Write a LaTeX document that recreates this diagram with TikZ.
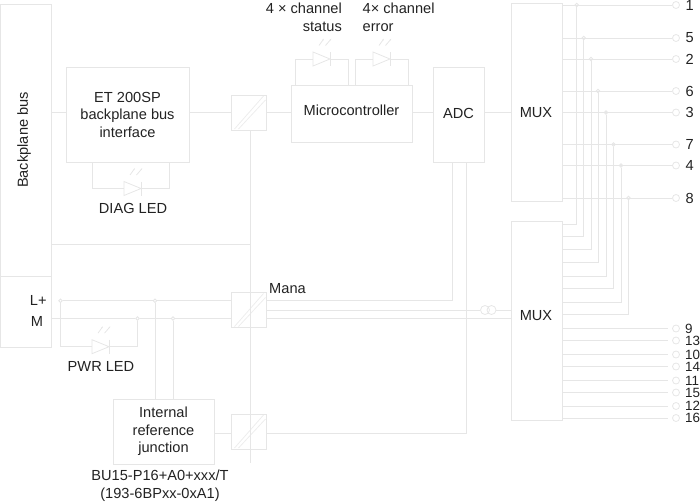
\documentclass[tikz,border=0pt]{standalone}
\usepackage{fontspec}
\setmainfont{Liberation Sans}
\usepackage{xcolor}
\usepackage{tikz}
\usetikzlibrary{arrows.meta,positioning,calc}
\definecolor{Wire}{HTML}{E6E6E6}
\definecolor{Ink}{HTML}{222222}

\tikzset{
    led/.pic={
        \draw[wire] (-8.5,-7) -- (8.5,0) -- (-8.5,7) -- cycle;
        \draw[wire] (8.5,-7) -- (8.5,7);
        \draw[wire,-{Latex[length=2pt]}] (-2.5,-13.5) -- (2.5,-20.5);
        \draw[wire,-{Latex[length=2pt]}] (4,-13.5) -- (10,-20.5);
        \coordinate (-a) at (-8.5,0);
        \coordinate (-k) at (8.5,0);
    }
}

\begin{document}
\begin{tikzpicture}[
    x=1pt,y=-1pt,
    wire/.style={draw=Wire,line width=0.8pt},
    txt/.style={text=Ink,inner sep=0pt,align=center,font=\fontsize{14.6}{17.5}\selectfont},
    lowtxt/.style={txt,font=\fontsize{13.4}{14}\selectfont},
    block/.style={wire,txt,rectangle},
    iso/.style={wire,rectangle,minimum size=35pt,inner sep=0pt,
        path picture={
            \draw[wire,draw=Wire!70] ($(path picture bounding box.south west)+(3,-1)$) -- ($(path picture bounding box.north east)+(-3,1)$);
            \draw[wire,draw=Wire!70] ($(path picture bounding box.south west)+(7,-1)$) -- ($(path picture bounding box.north east)+(-1,5)$);
        }},
    dot/.style={wire,circle,minimum size=3.5pt,inner sep=0pt},
    pin/.style={wire,circle,minimum size=7pt,inner sep=0pt},
    lead/.style={wire,shorten >=4pt}
]
\useasboundingbox (0,0) rectangle (700,501);

% blocks
\node[block,minimum width=51pt,minimum height=272pt] (bus) at (26.2,140) {};
\node[block,minimum width=51.5pt,minimum height=71pt] (supply) at (26,311.5) {};
\node[block,minimum width=123pt,minimum height=94.5pt] (et) at (127.5,114.75) {ET 200SP\\backplane bus\\interface};
\node[iso] (iso1) at (249,112.5) {};
\node[iso] (iso2) at (249,310) {};
\node[iso] (iso3) at (249,431.5) {};
\node[block,minimum width=120.5pt,minimum height=57pt] (micro) at (351.75,113.5) {};
\node[block,minimum width=51pt,minimum height=95pt] (adc) at (458.8,115) {};
\node[block,minimum width=51pt,minimum height=198pt] (mux1) at (537.2,102) {};
\node[block,minimum width=51pt,minimum height=199pt] (mux2) at (537.2,320.5) {};
\node[block,minimum width=101pt,minimum height=65pt] (ref) at (163.5,431.5) {Internal\\reference\\junction};

% texts
\node[txt,rotate=90] (buslabel) at (24,140) {Backplane bus};
\node[txt] (microlabel) at (351.5,110) {Microcontroller};
\node[txt] (adclabel) at (458.5,113) {ADC};
\node[txt] (mux1label) at (536,113) {MUX};
\node[txt] (mux2label) at (536,315.5) {MUX};
\node[txt,align=right,anchor=north east] (statuslabel) at (342,3) {4 × channel\\status};
\node[txt,align=left,anchor=north west] (errorlabel) at (362.5,3) {4× channel\\error};
\node[txt] (diaglabel) at (133,208) {DIAG LED};
\node[txt] (pwrlabel) at (101,366) {PWR LED};
\node[txt] (manalabel) at (287.5,289) {Mana};
\node[txt] (lplus) at (38.3,300) {L+};
\node[txt] (mlabel) at (37,321) {M};
\node[txt] (partlabel) at (160,485.5) {BU15-P16+A0+xxx/T\\(193-6BPxx-0xA1)};

% LEDs
\pic (diag) at (132.5,188.5) {led};
\pic (status) at (321.5,59) {led};
\pic (error) at (381.5,59) {led};
\pic (pwr) at (100.5,346.7) {led};
\coordinate (diagl) at (92.5,188.5);
\coordinate (diagr) at (169.5,188.5);
\coordinate (statusl) at (295.5,59);
\coordinate (statusr) at (348.5,59);
\coordinate (errorl) at (355.7,59);
\coordinate (errorr) at (408.3,59);
\draw[wire] (et.south -| diagl) -- (diagl) -- (diag-a);
\draw[wire] (diag-k) -- (diagr) -- (et.south -| diagr);
\draw[wire] (micro.north -| statusl) -- (statusl) -- (status-a);
\draw[wire] (status-k) -- (statusr) -- (micro.north -| statusr);
\draw[wire] (micro.north -| errorl) -- (errorl) -- (error-a);
\draw[wire] (error-k) -- (errorr) -- (micro.north -| errorr);

% bus line
\draw[wire] (bus.east |- iso1) -- (et.west |- iso1);
\draw[wire] (et.east |- iso1) -- (iso1.west);
\draw[wire] (iso1.east) -- (micro.west |- iso1);
\draw[wire] (micro.east |- iso1) -- (adc.west |- iso1);
\draw[wire] (adc.east |- iso1) -- (mux1.west |- iso1);
\coordinate (railend) at (250.5,463);
\coordinate (railtop) at (250.5,130);
\coordinate (tap) at (250.5,244.5);
\draw[wire] (railtop) -- (railend);
\draw[wire] (bus.east |- tap) -- (tap);

% supply
\node[dot] (lp1) at (60.5,300.7) {};
\node[dot] (lp2) at (155,300.7) {};
\node[dot] (m1) at (137.5,318.5) {};
\node[dot] (m2) at (173,318.5) {};
\coordinate (mstart) at (51.7,318.5);
\draw[wire] (lp1) -- (lp2) -- (iso2.west |- lp1);
\draw[wire] (mstart) -- (m1) -- (m2) -- (iso2.west |- m1);
\draw[wire] (lp1) |- (pwr-a);
\draw[wire] (pwr-k) -| (m1);
\draw[wire] (lp2) -- (ref.north -| lp2);
\draw[wire] (m2) -- (ref.north -| m2);

% analog side
\node[wire,circle,minimum size=9pt,inner sep=0pt] (coil1) at (485,310) {};
\node[wire,circle,minimum size=9pt,inner sep=0pt] (coil2) at (491.5,310) {};
\coordinate (adcl) at (452.7,300.7);
\coordinate (adcr) at (466,433);
\draw[wire] (iso2.east |- adcl) -- (adcl) -- (adcl |- adc.south);
\draw[wire] (iso2.east |- coil1) -- (coil1);
\draw[wire] (coil2) -- (mux2.west |- coil2);
\draw[wire] (iso2.east |- m1) -- (mux2.west |- m1);
\draw[wire] (ref.east |- adcr) -- (iso3.west |- adcr);
\draw[wire] (iso3.east |- adcr) -- (adcr) -- (adcr |- adc.south);

% upper terminals
\node[pin] (t1) at (676,5) {};
\node[pin] (t5) at (676,38) {};
\node[pin] (t2) at (676,59) {};
\node[pin] (t6) at (676,91) {};
\node[pin] (t3) at (676,112.5) {};
\node[pin] (t7) at (676,144.5) {};
\node[pin] (t4) at (676,165.5) {};
\node[pin] (t8) at (676,198) {};
\node[txt,right=5.5pt of t1] (n1) {1};
\node[txt,right=5.5pt of t5] (n5) {5};
\node[txt,right=5.5pt of t2] (n2) {2};
\node[txt,right=5.5pt of t6] (n6) {6};
\node[txt,right=5.5pt of t3] (n3) {3};
\node[txt,right=5.5pt of t7] (n7) {7};
\node[txt,right=5.5pt of t4] (n4) {4};
\node[txt,right=5.5pt of t8] (n8) {8};
\draw[wire] (mux1.east |- t1) -- (t1);
\draw[wire] (mux1.east |- t5) -- (t5);
\draw[wire] (mux1.east |- t2) -- (t2);
\draw[wire] (mux1.east |- t6) -- (t6);
\draw[wire] (mux1.east |- t3) -- (t3);
\draw[wire] (mux1.east |- t7) -- (t7);
\draw[wire] (mux1.east |- t4) -- (t4);
\draw[wire] (mux1.east |- t8) -- (t8);

% taps down to the second multiplexer
\node[dot] (d1) at (576.7,5) {};
\node[dot] (d5) at (583.7,38) {};
\node[dot] (d2) at (591,59) {};
\node[dot] (d6) at (598,91) {};
\node[dot] (d3) at (606,112.5) {};
\node[dot] (d7) at (613.5,144.5) {};
\node[dot] (d4) at (621,165.5) {};
\node[dot] (d8) at (628.5,198) {};
\coordinate (p1) at (562.7,224);
\coordinate (p5) at (562.7,236);
\coordinate (p2) at (562.7,249.5);
\coordinate (p6) at (562.7,262);
\coordinate (p3) at (562.7,276);
\coordinate (p7) at (562.7,288);
\coordinate (p4) at (562.7,302);
\coordinate (p8) at (562.7,314);
\draw[wire] (d1) |- (p1);
\draw[wire] (d5) |- (p5);
\draw[wire] (d2) |- (p2);
\draw[wire] (d6) |- (p6);
\draw[wire] (d3) |- (p3);
\draw[wire] (d7) |- (p7);
\draw[wire] (d4) |- (p4);
\draw[wire] (d8) |- (p8);

% lower terminals
\node[pin] (t9) at (676,328.5) {};
\node[pin] (t13) at (676,340.5) {};
\node[pin] (t10) at (676,354.5) {};
\node[pin] (t14) at (676,366.5) {};
\node[pin] (t11) at (676,380.5) {};
\node[pin] (t15) at (676,392.5) {};
\node[pin] (t12) at (676,406) {};
\node[pin] (t16) at (676,418) {};
\node[lowtxt,right=5pt of t9] (n9) {9};
\node[lowtxt,right=5pt of t13] (n13) {13};
\node[lowtxt,right=5pt of t10] (n10) {10};
\node[lowtxt,right=5pt of t14] (n14) {14};
\node[lowtxt,right=5pt of t11] (n11) {11};
\node[lowtxt,right=5pt of t15] (n15) {15};
\node[lowtxt,right=5pt of t12] (n12) {12};
\node[lowtxt,right=5pt of t16] (n16) {16};
\draw[lead] (mux2.east |- t9) -- (t9);
\draw[lead] (mux2.east |- t13) -- (t13);
\draw[lead] (mux2.east |- t10) -- (t10);
\draw[lead] (mux2.east |- t14) -- (t14);
\draw[lead] (mux2.east |- t11) -- (t11);
\draw[lead] (mux2.east |- t15) -- (t15);
\draw[lead] (mux2.east |- t12) -- (t12);
\draw[lead] (mux2.east |- t16) -- (t16);
\end{tikzpicture}
\end{document}
